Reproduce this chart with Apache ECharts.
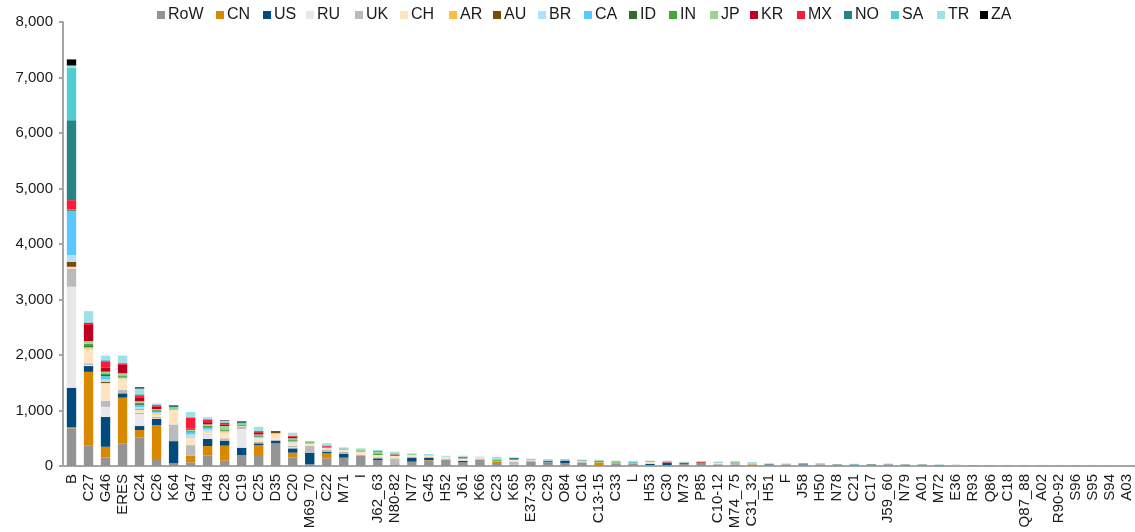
<!DOCTYPE html>
<html>
<head>
<meta charset="utf-8">
<script src="https://cdn.jsdelivr.net/npm/echarts@6/dist/echarts.min.js"></script>
<style>
html,body{margin:0;padding:0;background:#fff;}
#chart{width:1135px;height:532px;}
</style>
</head>
<body>
<div id="chart"></div>
<script>
var categories = ["B","C27","G46","ERES","C24","C26","K64","G47","H49","C28",
"C19","C25","D35","C20","M69_70","C22","M71","I","J62_63","N80-82",
"N77","G45","H52","J61","K66","C23","K65","E37-39","C29","O84",
"C16","C13-15","C33","L","H53","C30","M73","P85","C10-12","M74_75",
"C31_32","H51","F","J58","H50","N78","C21","C17","J59_60","N79",
"A01","M72","E36","R93","Q86","C18","Q87_88","A02","R90-92","S96",
"S95","S94","A03"];

var seriesNames = ["RoW","CN","US","RU","UK","CH","AR","AU","BR","CA","ID","IN","JP","KR","MX","NO","SA","TR","ZA"];

var RoW = [680,366,156,408,516,126,48,66,186,96,
 198,198,408,150,30,138,150,180,108,30,
 78,96,114,66,114,36,24,84,36,54,
 54,18,36,36,18,18,40,54,20,30,
 20,30,30,30,30,24,20,30,24,26,
 26,10,10,14,12,12,10,10,9,8,
 7,6,5];
var CN = [20,1330,190,823,132,613,0,120,174,270,
 0,180,0,90,0,90,0,0,0,0,
 0,10,0,0,0,48,0,0,10,0,
 0,48,0,0,0,0,0,0,0,0,
 10,0,0,0,0,0,0,0,0,0,
 0,0,0,0,0,0,0,0,0,0,
 0,0,0];
var US = [710,105,540,78,72,108,400,0,126,90,
 132,30,42,78,210,30,66,0,30,0,
 72,42,0,24,0,0,0,0,18,42,
 0,0,0,0,18,36,20,0,0,0,
 0,6,0,16,0,0,0,0,6,0,
 0,0,0,0,0,0,0,0,0,0,
 0,0,0];
var RU = [1820,20,180,0,217,10,0,0,72,0,
 337,0,0,20,0,0,0,0,0,0,
 0,0,0,0,0,0,0,0,0,0,
 0,0,0,0,0,0,0,0,0,0,
 0,0,0,0,0,0,0,0,0,0,
 0,0,0,0,0,0,0,0,0,0,
 0,0,0];
var UK = [330,30,110,60,20,30,300,190,10,42,
 42,30,20,22,126,40,42,20,20,108,
 20,20,15,10,20,10,48,15,10,10,
 20,8,10,20,10,10,8,0,20,18,
 10,8,14,0,6,6,0,0,12,0,
 0,0,14,0,0,0,0,0,0,0,
 0,0,0];
var CH = [20,250,310,193,50,40,264,133,42,102,
 10,60,120,60,42,30,30,58,40,42,
 28,20,30,30,20,0,42,15,0,0,
 10,0,0,0,30,0,0,0,20,0,
 10,0,10,0,0,0,0,0,0,0,
 0,0,6,0,0,0,0,0,0,0,
 0,0,0];
var AR = [10,20,10,15,15,20,0,15,10,10,
 0,0,0,0,0,0,0,0,0,0,
 0,0,0,0,0,0,0,0,0,0,
 10,0,0,0,0,0,0,0,0,0,
 0,0,0,0,0,0,0,0,0,0,
 0,0,0,0,0,0,0,0,0,0,
 0,0,0];
var AU = [90,0,24,0,10,0,0,0,0,0,
 0,0,25,0,0,0,0,0,0,0,
 0,0,0,0,0,0,10,0,0,0,
 0,0,0,0,0,0,0,10,0,0,
 0,0,0,0,0,0,0,0,0,0,
 0,0,0,0,0,0,0,0,0,0,
 0,0,0];
var BR = [120,10,40,10,30,15,10,45,40,10,
 0,15,0,15,0,0,0,0,0,0,
 0,0,0,0,0,0,0,0,0,0,
 0,0,0,0,0,0,0,0,0,0,
 0,0,0,0,0,0,0,0,0,0,
 0,0,0,0,0,0,0,0,0,0,
 0,0,0];
var CA = [800,10,60,10,40,15,0,40,30,10,
 0,15,0,15,0,0,0,0,0,0,
 0,0,0,0,0,0,0,0,0,0,
 0,0,0,0,0,0,0,0,0,0,
 0,0,0,0,0,0,0,0,0,0,
 0,0,0,0,0,0,0,0,0,0,
 0,0,0];
var ID = [15,20,20,10,15,10,5,10,10,10,
 10,10,0,10,0,0,0,0,0,0,
 0,0,0,0,0,0,0,0,0,0,
 0,0,0,0,0,0,0,0,0,0,
 0,0,0,0,0,0,0,0,0,0,
 0,0,0,0,0,0,0,0,0,0,
 0,0,0];
var IN = [5,40,30,25,25,20,10,20,25,20,
 20,15,0,20,20,10,0,10,30,20,
 10,0,0,0,0,15,0,0,0,0,
 0,20,20,0,0,0,0,0,0,10,
 0,0,0,0,0,0,0,0,0,0,
 0,0,0,0,0,0,0,0,0,0,
 0,0,0];
var JP = [0,50,30,40,25,20,20,15,25,60,
 20,15,0,20,20,0,20,20,30,10,
 10,10,10,10,0,15,0,0,0,0,
 0,10,12,0,0,0,0,0,0,10,
 0,0,0,0,0,0,0,0,0,0,
 0,0,0,0,0,0,0,0,0,0,
 0,0,0];
var KR = [0,290,70,150,60,40,0,20,40,30,
 0,40,15,25,0,15,0,0,10,10,
 0,0,0,15,0,0,0,0,15,0,
 0,0,0,0,0,10,0,8,0,0,
 0,0,0,0,0,0,0,0,0,0,
 0,0,0,0,0,0,0,0,0,0,
 0,0,0];
var MX = [170,40,110,30,40,30,0,200,50,30,
 0,20,0,15,0,15,0,0,0,0,
 0,0,0,0,0,0,0,0,5,0,
 0,0,0,0,0,0,0,0,0,0,
 0,0,0,0,0,0,0,0,0,0,
 0,0,0,0,0,0,0,0,0,0,
 0,0,0];
var NO = [1440,0,20,0,20,0,40,0,0,0,
 40,0,0,0,0,0,8,0,0,0,
 0,0,0,10,0,0,20,8,0,10,
 10,0,8,10,10,8,0,6,8,10,
 10,0,0,0,6,6,10,6,0,4,
 4,6,0,0,0,0,0,0,0,0,
 0,0,0];
var SA = [950,10,10,10,20,0,0,10,10,10,
 0,10,0,10,0,0,0,0,0,8,
 0,0,0,0,0,10,0,0,0,0,
 0,0,0,10,0,0,0,0,0,0,
 0,0,0,0,0,0,0,0,0,0,
 0,0,0,0,0,0,0,0,0,0,
 0,0,0];
var TR = [36,200,80,130,90,30,0,90,30,20,
 0,70,0,50,0,40,20,30,20,30,
 10,18,15,20,14,30,12,10,32,10,
 10,10,10,20,10,14,10,0,10,0,
 12,10,0,8,6,0,10,0,0,0,
 0,14,0,0,0,0,0,0,0,0,
 0,0,0];
var ZA = [110,0,0,0,20,0,0,0,0,10,
 0,0,0,0,0,0,0,0,0,0,
 0,0,0,0,0,0,0,0,0,0,
 0,0,0,0,0,0,0,0,0,0,
 0,0,0,0,0,0,0,0,0,0,
 0,0,0,0,0,0,0,0,0,0,
 0,0,0];

var yTicks = [0,1000,2000,3000,4000,5000,6000,7000,8000];

/* layout: left edge (px) of each legend marker */
var legendLeft = [157,216,263,306,355,400,449,493,538,584,629,669,710,750,797,844,891,937,980];

var colors = ['#949494','#D98900','#004B7E','#E8E8EA','#BBBBBD','#FFE4C2','#FFBA4C','#7D4B00','#B3E1FD','#5DC6FF','#2C6E27','#45A83A','#96D98D','#BF0020','#FF1A3A','#258585','#52CCD3','#9DE2E6','#000000'];
var seriesData = [RoW,CN,US,RU,UK,CH,AR,AU,BR,CA,ID,IN,JP,KR,MX,NO,SA,TR,ZA];

var chart = echarts.init(document.getElementById('chart'), null, {renderer:'canvas'});
var font = '"Liberation Sans", Arial, sans-serif';
var series = seriesNames.map(function(n,i){
  return {
    name:n, type:'bar', stack:'total', data:seriesData[i],
    barWidth:'55%',
    itemStyle:{color:colors[i]},
    emphasis:{disabled:true},
    animation:false
  };
});
var legends = seriesNames.map(function(n,i){
  return {
    data:[n], top:7, left:legendLeft[i], padding:0, icon:'rect',
    itemWidth:8, itemHeight:8, itemGap:0,
    textStyle:{fontSize:16, color:'#1a1a1a', fontFamily:font, padding:[0,0,0,-2]}
  };
});
chart.setOption({
  animation:false,
  textStyle:{fontFamily:font},
  legend:legends,
  grid:{left:63, right:0, top:22, bottom:66, containLabel:false},
  xAxis:{
    type:'category', data:categories,
    axisLine:{lineStyle:{color:'#A6A6A6', width:2}},
    axisTick:{show:false},
    axisLabel:{rotate:90, interval:0, fontSize:15, color:'#1a1a1a', margin:8, fontFamily:font}
  },
  yAxis:{
    type:'value', min:yTicks[0], max:yTicks[yTicks.length-1], interval:1000,
    axisLine:{show:true, lineStyle:{color:'#A6A6A6', width:2}},
    axisTick:{show:true, length:4, lineStyle:{color:'#A6A6A6', width:2}},
    splitLine:{show:false},
    axisLabel:{fontSize:15, color:'#1a1a1a', margin:10, fontFamily:font,
      formatter:function(v){return v.toLocaleString('en-US');}}
  },
  series:series
});
</script>
</body>
</html>
